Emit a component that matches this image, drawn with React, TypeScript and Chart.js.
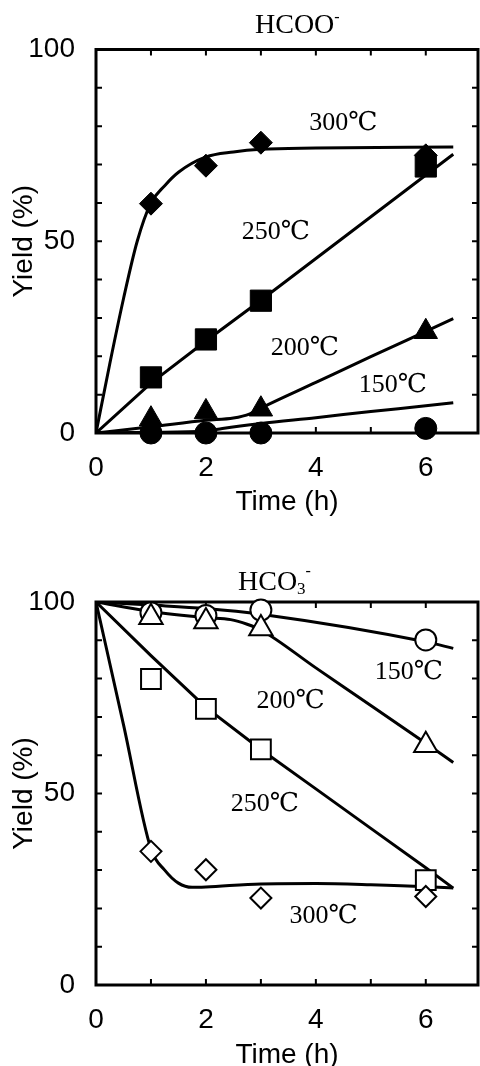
import React, { useEffect, useRef } from "react";
import { Chart, registerables } from "chart.js";

Chart.register(...registerables);

const SANS = '"Liberation Sans", Arial, Helvetica, sans-serif';
const SERIF = '"Liberation Serif", "Times New Roman", "DejaVu Serif", serif';

// axis tick labels
const xTickLabels = [0, 2, 4, 6];
const yTickLabels = [0, 50, 100];

// sampling times (h)
const sampleTimes = [1, 2, 3, 6];

// HCOO- measured yields (%)
const formate150 = [0, 0, 0, 1.2];
const formate200 = [3.6, 5.5, 6.2, 26.4];
const formate250 = [14.5, 24.4, 34.5, 69.5];
const formate300 = [59.8, 69.7, 75.7, 72.4];

// HCOO- fitted curves
const formateFit300T = [0, 0.25, 0.5, 0.75, 1, 1.25, 1.5, 2, 2.5, 3, 4, 6.5];
const formateFit300Y = [0, 18, 35, 50, 60, 64.5, 68, 72, 73.3, 74, 74.3, 74.6];
const formateFit250T = [0, 1, 2, 3, 6.5];
const formateFit250Y = [0, 13, 24, 34.6, 72.7];
const formateFit200T = [0, 1, 2, 2.5, 2.8, 3, 4, 5, 6, 6.5];
const formateFit200Y = [0, 1.6, 3.3, 3.9, 5, 6.5, 13.2, 19.9, 26.5, 29.8];
const formateFit150T = [0, 1, 2, 2.3, 3, 4, 5, 6, 6.5];
const formateFit150Y = [0, 0.2, 0.5, 1.2, 2.5, 4.0, 5.6, 7.1, 7.9];

// HCO3- measured yields (%)
const bicarb150 = [97.2, 96.5, 97.9, 90.1];
const bicarb200 = [96, 94.9, 93.1, 62.6];
const bicarb250 = [79.9, 72.1, 61.5, 27.4];
const bicarb300 = [34.9, 30.1, 22.7, 23.1];

// HCO3- fitted curves
const bicarbFit150T = [0, 1, 2, 3, 6, 6.5];
const bicarbFit150Y = [100, 99.2, 98.3, 96.8, 89.6, 87.9];
const bicarbFit200T = [0, 1, 2, 2.45, 2.75, 3, 4, 5, 6, 6.5];
const bicarbFit200Y = [100, 97.5, 95.9, 95.4, 94.2, 92.7, 82.8, 73, 63.1, 58.1];
const bicarbFit250T = [0, 1, 2, 3, 4, 5, 6, 6.5];
const bicarbFit250Y = [100, 86, 72.5, 61.5, 51.2, 40.9, 30.6, 25.3];
const bicarbFit300T = [0, 0.5, 1, 1.25, 1.5, 1.75, 2, 3, 4, 5, 6, 6.5];
const bicarbFit300Y = [100, 68, 35.5, 30, 26.6, 25.5, 25.6, 26.4, 26.5, 26.2, 25.7, 25.3];

// curve labels
const formateLabels = [
  { text: "300℃", x: 4.5, y: 80.9 },
  { text: "250℃", x: 3.27, y: 52.4 },
  { text: "200℃", x: 3.8, y: 22 },
  { text: "150℃", x: 5.4, y: 12.6 },
];
const bicarbLabels = [
  { text: "150℃", x: 5.69, y: 81.7 },
  { text: "200℃", x: 3.54, y: 74.2 },
  { text: "250℃", x: 3.07, y: 47.2 },
  { text: "300℃", x: 4.14, y: 17.9 },
];

const pts = (xs: number[], ys: number[]) => xs.map((x, i) => ({ x, y: ys[i] }));

const decorPlugin = {
  id: "decor",
  beforeDatasetsDraw(chart: any, _a: any, opts: any) {
    const { ctx, chartArea: a, scales } = chart;
    const xs = scales.x;
    const ys = scales.y;
    ctx.save();
    ctx.strokeStyle = "#000";
    ctx.lineWidth = 2;
    const L = 6;
    ctx.beginPath();
    for (const t of xs.ticks) {
      const px = xs.getPixelForValue(t.value);
      ctx.moveTo(px, a.bottom);
      ctx.lineTo(px, a.bottom - L);
      ctx.moveTo(px, a.top);
      ctx.lineTo(px, a.top + L);
    }
    for (const t of ys.ticks) {
      const py = ys.getPixelForValue(t.value);
      ctx.moveTo(a.left, py);
      ctx.lineTo(a.left + L, py);
      ctx.moveTo(a.right, py);
      ctx.lineTo(a.right - L, py);
    }
    ctx.stroke();
    ctx.lineWidth = 3;
    ctx.strokeRect(a.left, a.top, a.right - a.left, a.bottom - a.top);

    ctx.fillStyle = "#000";
    ctx.font = `26px ${SERIF}`;
    ctx.textAlign = "center";
    ctx.textBaseline = "middle";
    for (const lb of opts.labels) {
      ctx.fillText(lb.text, xs.getPixelForValue(lb.x), ys.getPixelForValue(lb.y));
    }
    ctx.restore();
  },
  afterDraw(chart: any, _a: any, opts: any) {
    const { ctx } = chart;
    const t = opts.title;
    ctx.save();
    ctx.fillStyle = "#000";
    ctx.textAlign = "left";
    ctx.textBaseline = "alphabetic";
    let cx = t.x;
    for (const p of t.parts) {
      ctx.font = `${p.size}px ${SERIF}`;
      ctx.fillText(p.text, cx, t.baseline + p.dy);
      cx += ctx.measureText(p.text).width;
    }
    ctx.restore();
  },
};

function curve(xs: number[], ys: number[], smooth: boolean) {
  return {
    data: pts(xs, ys),
    showLine: true,
    borderColor: "#000",
    borderWidth: 3,
    pointRadius: 0,
    fill: false,
    cubicInterpolationMode: smooth ? "monotone" : "default",
    tension: 0,
    order: 10,
  };
}

function markers(ys: number[], style: string, radius: number, filled: boolean, order: number) {
  return {
    data: pts(sampleTimes, ys),
    showLine: false,
    pointStyle: style,
    pointRadius: radius,
    pointBackgroundColor: filled ? "#000" : "#fff",
    pointBorderColor: "#000",
    pointBorderWidth: filled ? 1 : 2,
    borderColor: "#000",
    clip: false,
    order,
  };
}

function buildConfig(datasets: any[], top: number, axisH: number, titlePadB: number, padB: number, labels: any[], title: any) {
  const tickFontX = { family: SANS, size: 28, lineHeight: "54px" };
  const tickFontY = { family: SANS, size: 28, lineHeight: 1 };
  const titleFont = { family: SANS, size: 28, lineHeight: 1 };
  return {
    type: "line",
    data: { datasets },
    options: {
      responsive: false,
      animation: false,
      devicePixelRatio: 1,
      events: [],
      layout: { autoPadding: false, padding: { top, right: 2, bottom: padB, left: 0 } },
      plugins: {
        legend: { display: false },
        tooltip: { enabled: false },
        decor: { labels, title },
      },
      scales: {
        x: {
          type: "linear",
          min: 0,
          max: 6.95,
          afterFit: (s: any) => {
            s.height = axisH;
            s.paddingLeft = 0;
            s.paddingRight = 0;
          },
          grid: { display: false },
          border: { display: false },
          ticks: {
            stepSize: 1,
            includeBounds: false,
            autoSkip: false,
            maxRotation: 0,
            padding: 0,
            color: "#000",
            font: tickFontX,
            callback: (v: number) => (xTickLabels.includes(v) ? String(v) : ""),
          },
          title: {
            display: true,
            text: "Time (h)",
            color: "#000",
            font: titleFont,
            padding: { top: 0, bottom: titlePadB },
          },
        },
        y: {
          type: "linear",
          min: 0,
          max: 100,
          afterFit: (s: any) => {
            s.width = 96;
            s.paddingTop = 0;
            s.paddingBottom = 0;
          },
          grid: { display: false },
          border: { display: false },
          ticks: {
            stepSize: 10,
            autoSkip: false,
            padding: 13,
            color: "#000",
            font: tickFontY,
            callback: (v: number) => (yTickLabels.includes(v) ? String(v) : ""),
          },
          title: {
            display: true,
            text: "Yield (%)",
            color: "#000",
            font: titleFont,
            padding: { top: 10, bottom: 0 },
          },
        },
      },
    },
    plugins: [decorPlugin],
  };
}

function formateConfig() {
  const datasets = [
    curve(formateFit300T, formateFit300Y, true),
    curve(formateFit250T, formateFit250Y, false),
    curve(formateFit200T, formateFit200Y, true),
    curve(formateFit150T, formateFit150Y, true),
    markers(formate300, "rectRot", 11.5, true, 5),
    markers(formate250, "rect", 15, true, 4),
    markers(formate200, "triangle", 13.5, true, 3),
    markers(formate150, "circle", 11, true, 2),
  ];
  return buildConfig(datasets, 49.5, 83, 0, 533 - 433 - 83, formateLabels, {
    x: 255,
    baseline: 33,
    parts: [
      { text: "HCOO", size: 28, dy: 0 },
      { text: "-", size: 16, dy: -11 },
    ],
  });
}

function bicarbConfig() {
  const datasets = [
    curve(bicarbFit150T, bicarbFit150Y, true),
    curve(bicarbFit200T, bicarbFit200Y, true),
    curve(bicarbFit250T, bicarbFit250Y, false),
    curve(bicarbFit300T, bicarbFit300Y, true),
    markers(bicarb150, "circle", 10.5, false, 5),
    markers(bicarb200, "triangle", 13.5, false, 4),
    markers(bicarb250, "rect", 14, false, 3),
    markers(bicarb300, "rectRot", 10.5, false, 2),
  ];
  return buildConfig(datasets, 602 - 533, 81, -3, 0, bicarbLabels, {
    x: 238,
    baseline: 590 - 533,
    parts: [
      { text: "HCO", size: 28, dy: 0 },
      { text: "3", size: 17, dy: 3.5 },
      { text: "-", size: 16, dy: -14 },
    ],
  });
}

function ChartCanvas({ top, height, make }: { top: number; height: number; make: () => any }) {
  const ref = useRef<HTMLCanvasElement | null>(null);
  useEffect(() => {
    if (!ref.current) return;
    const chart = new Chart(ref.current, make());
    return () => chart.destroy();
  }, []);
  return (
    <canvas
      ref={ref}
      width={480}
      height={height}
      style={{ position: "absolute", left: 0, top, width: 480, height, display: "block" }}
    />
  );
}

export default function App() {
  return (
    <div
      style={{
        position: "absolute",
        left: 0,
        top: 0,
        width: 480,
        height: 1066,
        overflow: "hidden",
        background: "#fff",
      }}
    >
      <ChartCanvas top={0} height={533} make={formateConfig} />
      <ChartCanvas top={533} height={533} make={bicarbConfig} />
    </div>
  );
}
